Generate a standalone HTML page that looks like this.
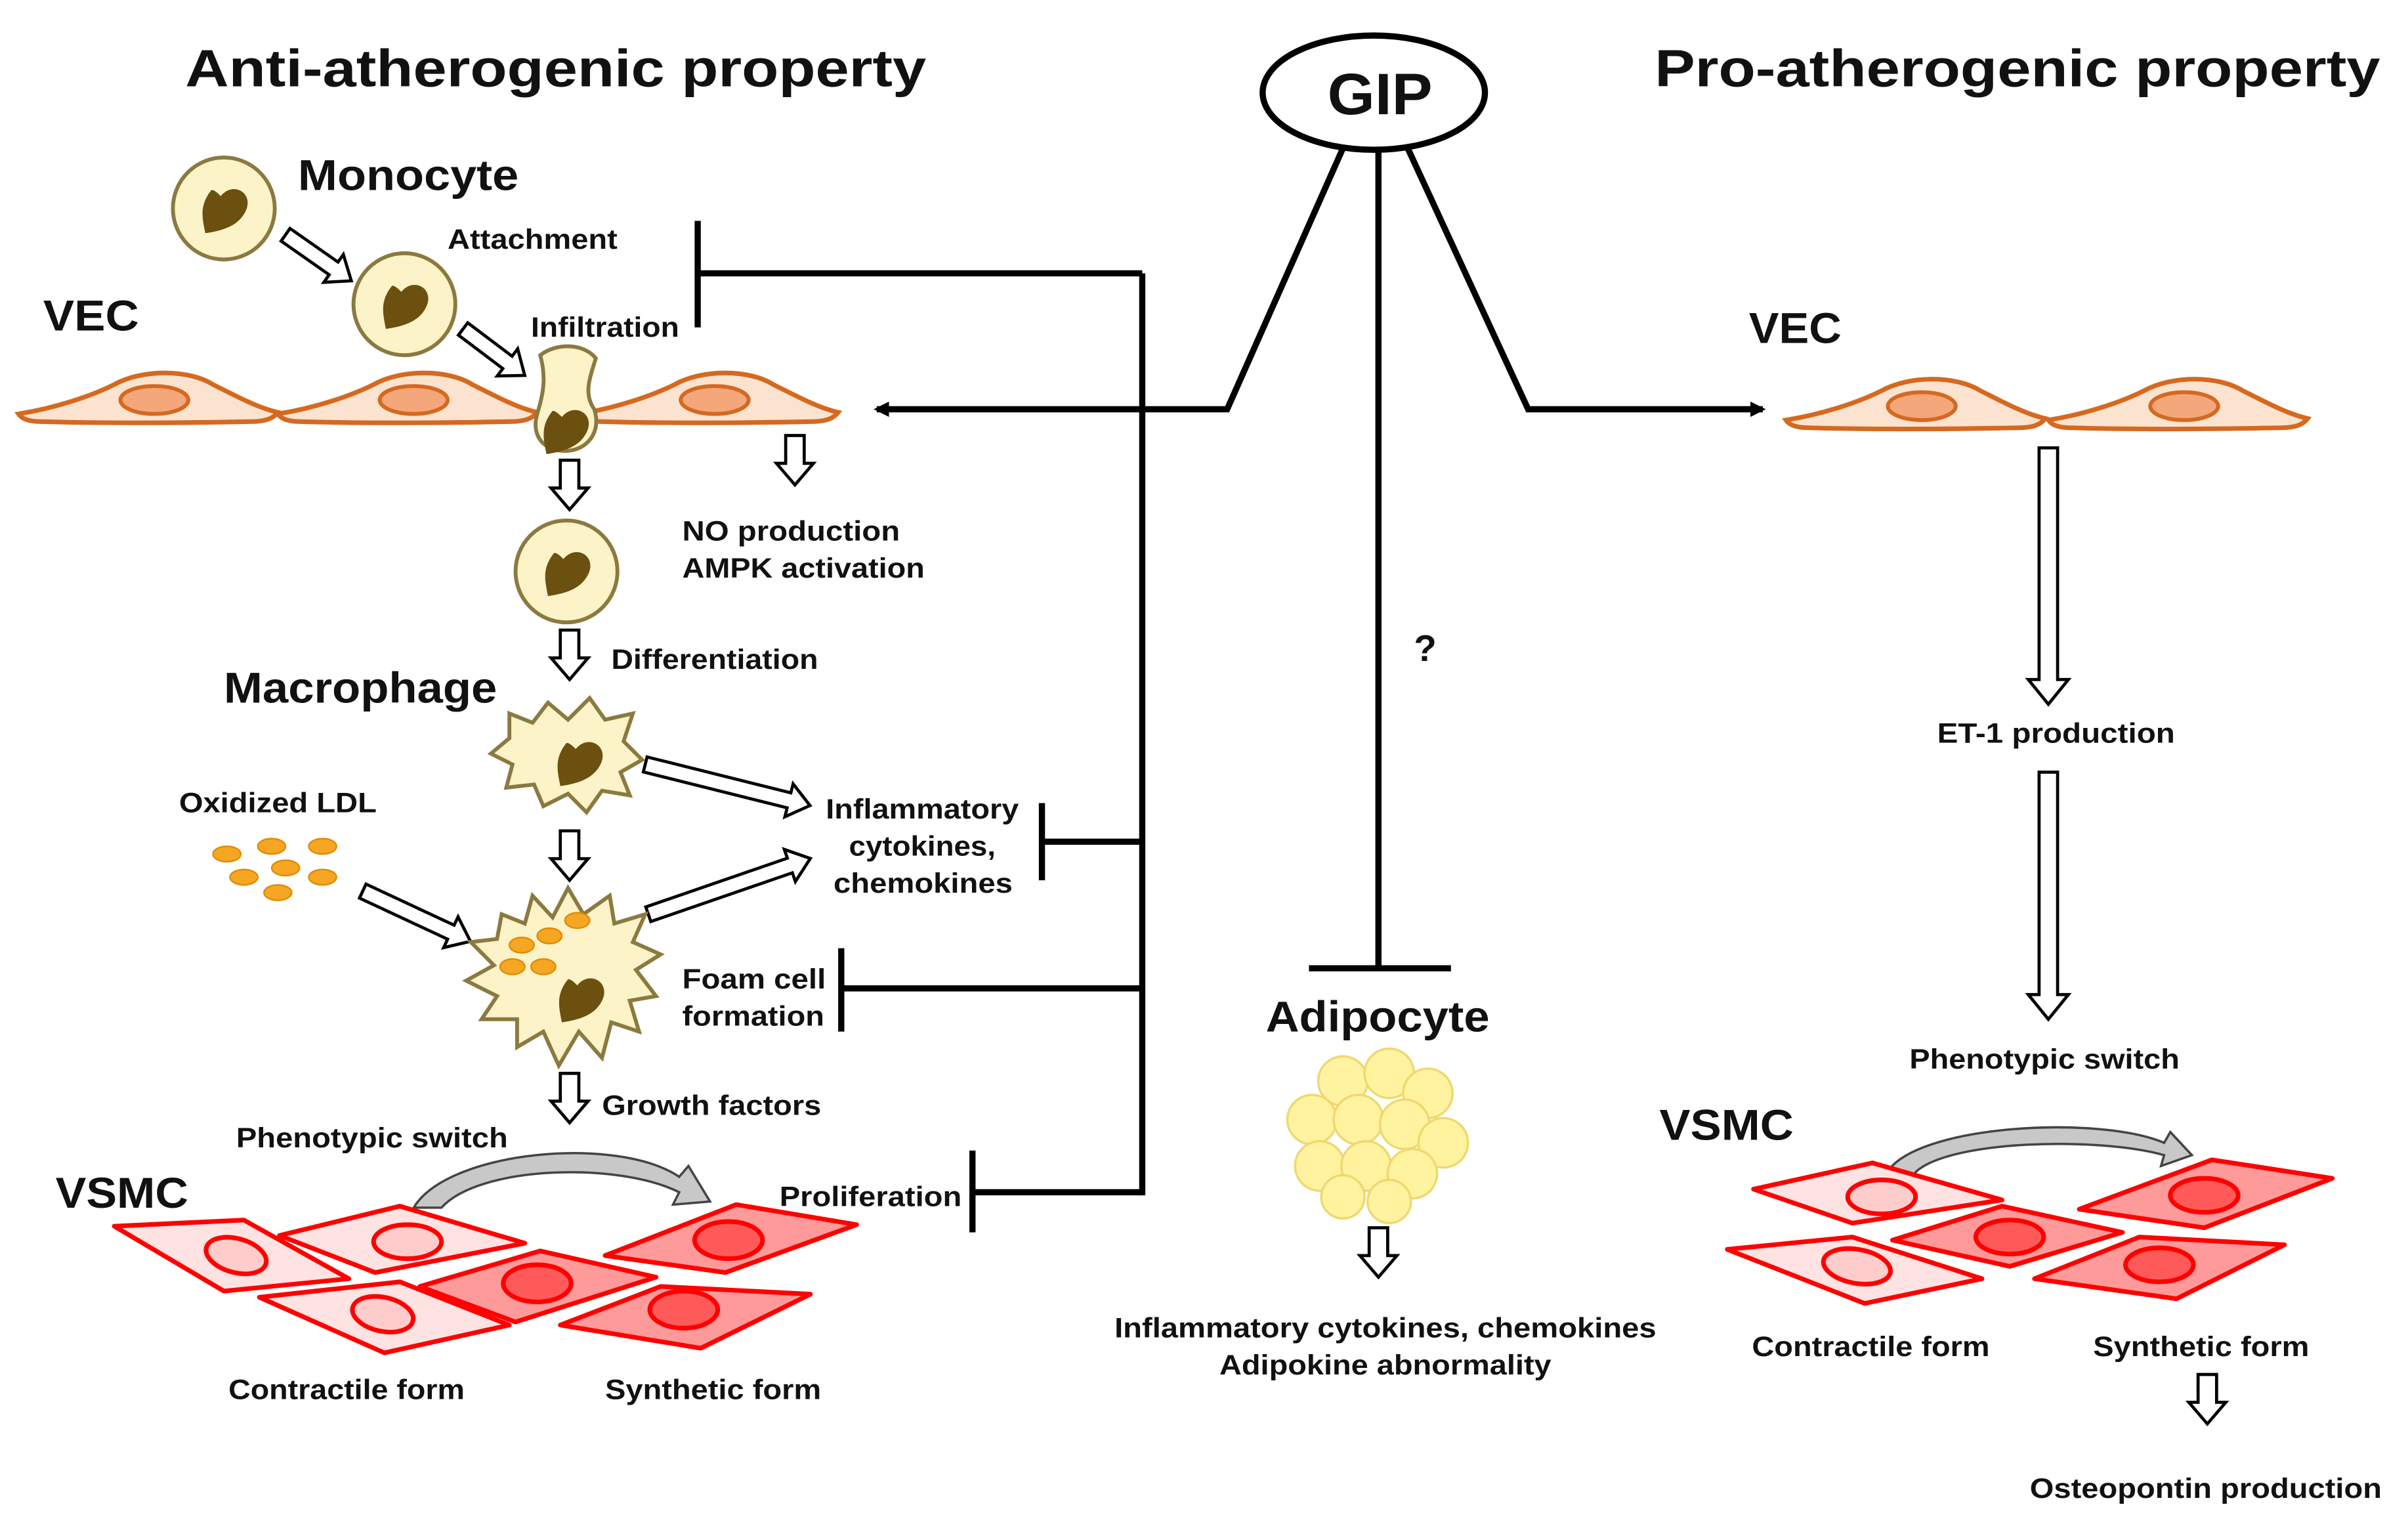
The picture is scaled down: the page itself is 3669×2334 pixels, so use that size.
<!DOCTYPE html>
<html><head><meta charset="utf-8"><style>
html,body{margin:0;padding:0;background:#fff;}
svg{display:block;}
text{font-family:"Liberation Sans",Arial,sans-serif;font-weight:bold;fill:#111;}
</style></head><body>
<svg width="3669" height="2334" viewBox="0 0 1560 992" preserveAspectRatio="none" xmlns="http://www.w3.org/2000/svg">
<defs>
<marker id="ah" markerWidth="10" markerHeight="10" refX="8" refY="5" orient="auto" markerUnits="userSpaceOnUse"><path d="M0,0 L10,5 L0,10 Z" fill="#000"/></marker>
<g id="vec">
<path d="M0,6 C25,2 48,-6 62,-13 C80,-23 110,-23 126,-13 C142,-5 155,2 168,5 C165,9 160,11 150,11 C100,12 50,12 15,11 C6,11 2,9 0,6 Z" fill="#fbe3d0" stroke="#d5691f" stroke-width="3"/>
<ellipse cx="88" cy="-3" rx="22" ry="9" fill="#f4a77a" stroke="#d5691f" stroke-width="2.5"/>
</g>
<g id="mono">
<circle r="33" fill="#fdf3c8" stroke="#8b7a40" stroke-width="2.5"/>
<path d="M-2,-8 C6,-18 20,-10 14,2 C10,10 2,14 -12,16 C-14,6 -16,-2 -8,-12 C-6,-12 -4,-10 -2,-8 Z" fill="#6b5010"/>
</g>
<g id="nuc"><path d="M-2,-8 C6,-18 20,-10 14,2 C10,10 2,14 -12,16 C-14,6 -16,-2 -8,-12 C-6,-12 -4,-10 -2,-8 Z" fill="#6b5010"/></g>
<path id="darr" d="M-6,0 H6 V18 H12 L0,32 L-12,18 H-6 Z" fill="#fff" stroke="#000" stroke-width="2"/>
</defs>

<text x="120" y="56" font-size="34" textLength="480" lengthAdjust="spacingAndGlyphs">Anti-atherogenic property</text>
<text x="1072" y="56" font-size="34" textLength="470" lengthAdjust="spacingAndGlyphs">Pro-atherogenic property</text>

<ellipse cx="890" cy="60" rx="72" ry="37" fill="#fff" stroke="#000" stroke-width="4"/>
<text x="860" y="74" font-size="38" textLength="68" lengthAdjust="spacingAndGlyphs">GIP</text>

<g stroke="#000" stroke-width="4" fill="none">
<polyline points="870,96 795,265 568,265" marker-end="url(#ah)"/>
<polyline points="912,96 990,265 1142,265" marker-end="url(#ah)"/>
<line x1="893" y1="98" x2="893" y2="627"/>
<line x1="848" y1="627" x2="940" y2="627"/>
<line x1="740" y1="177" x2="740" y2="774"/>
<line x1="740" y1="177" x2="452" y2="177"/><line x1="452" y1="143" x2="452" y2="212"/>
<line x1="740" y1="545" x2="675" y2="545"/><line x1="675" y1="520" x2="675" y2="570"/>
<line x1="740" y1="640" x2="545" y2="640"/><line x1="545" y1="614" x2="545" y2="668"/>
<line x1="740" y1="772" x2="630" y2="772"/><line x1="630" y1="745" x2="630" y2="798"/>
</g>
<text x="916" y="428" font-size="24" font-weight="normal">?</text>

<use href="#vec" x="12" y="262"/>
<use href="#vec" x="180" y="262"/>
<use href="#vec" x="375" y="262"/>
<text x="28" y="214" font-size="28" textLength="62" lengthAdjust="spacingAndGlyphs">VEC</text>

<use href="#mono" x="145" y="135"/>
<use href="#mono" x="262" y="197"/>
<text x="193" y="123" font-size="28" textLength="143" lengthAdjust="spacingAndGlyphs">Monocyte</text>
<text x="290" y="161" font-size="18" textLength="110" lengthAdjust="spacingAndGlyphs">Attachment</text>
<text x="344" y="218" font-size="18" textLength="96" lengthAdjust="spacingAndGlyphs">Infiltration</text>
<path d="M350,230 C360,222 378,222 386,232 C382,245 378,255 385,265 C390,280 380,292 366,292 C352,292 344,282 348,268 C352,255 354,245 350,230 Z" fill="#fdf3c8" stroke="#8b7a40" stroke-width="2.5"/>
<use href="#nuc" x="366" y="278"/>

<g transform="translate(185,152) rotate(35)"><path d="M0,-5 H38 V-11 L52,0 L38,11 V5 H0 Z" fill="#fff" stroke="#000" stroke-width="2"/></g>
<g transform="translate(300,213) rotate(37)"><path d="M0,-5 H36 V-11 L50,0 L36,11 V5 H0 Z" fill="#fff" stroke="#000" stroke-width="2"/></g>

<use href="#darr" x="369" y="298"/>
<use href="#darr" x="515" y="282"/>
<text x="442" y="350" font-size="18" textLength="141" lengthAdjust="spacingAndGlyphs">NO production</text>
<text x="442" y="374" font-size="18" textLength="157" lengthAdjust="spacingAndGlyphs">AMPK activation</text>
<use href="#mono" x="367" y="370"/>
<use href="#darr" x="369" y="408"/>
<text x="396" y="433" font-size="18" textLength="134" lengthAdjust="spacingAndGlyphs">Differentiation</text>
<text x="145" y="455" font-size="28" textLength="177" lengthAdjust="spacingAndGlyphs">Macrophage</text>

<path d="M330,462 L345,468 L355,455 L368,466 L382,452 L392,466 L410,462 L404,480 L416,492 L402,500 L408,515 L390,512 L380,526 L368,514 L352,522 L346,508 L328,510 L332,495 L318,488 L330,478 Z" fill="#fdf3c8" stroke="#8b7a40" stroke-width="2.5"/>
<use href="#nuc" x="375" y="493"/>
<use href="#darr" x="369" y="538"/>
<g transform="translate(418,495) rotate(14)"><path d="M0,-5 H96 V-11 L110,0 L96,11 V5 H0 Z" fill="#fff" stroke="#000" stroke-width="2"/></g>
<g transform="translate(420,592) rotate(-19)"><path d="M0,-5 H97 V-11 L111,0 L97,11 V5 H0 Z" fill="#fff" stroke="#000" stroke-width="2"/></g>
<text x="535" y="530" font-size="18" textLength="125" lengthAdjust="spacingAndGlyphs">Inflammatory</text>
<text x="550" y="554" font-size="18" textLength="95" lengthAdjust="spacingAndGlyphs">cytokines,</text>
<text x="540" y="578" font-size="18" textLength="116" lengthAdjust="spacingAndGlyphs">chemokines</text>

<text x="116" y="526" font-size="18" textLength="128" lengthAdjust="spacingAndGlyphs">Oxidized LDL</text>
<g fill="#f5a623" stroke="#e08a00" stroke-width="1">
<ellipse cx="147" cy="553" rx="9" ry="5"/><ellipse cx="176" cy="548" rx="9" ry="5"/><ellipse cx="209" cy="548" rx="9" ry="5"/>
<ellipse cx="158" cy="568" rx="9" ry="5"/><ellipse cx="185" cy="562" rx="9" ry="5"/><ellipse cx="209" cy="568" rx="9" ry="5"/>
<ellipse cx="180" cy="578" rx="9" ry="5"/>
</g>
<g transform="translate(235,577) rotate(25)"><path d="M0,-5 H63 V-11 L77,0 L63,11 V5 H0 Z" fill="#fff" stroke="#000" stroke-width="2"/></g>

<path d="M325,592 L340,598 L345,580 L358,594 L368,575 L378,592 L395,580 L398,598 L418,592 L410,610 L428,618 L412,628 L425,645 L408,648 L414,668 L396,662 L390,685 L375,668 L362,690 L352,668 L335,678 L335,660 L312,660 L322,645 L302,635 L320,625 L305,610 L322,608 Z" fill="#fdf3c8" stroke="#8b7a40" stroke-width="2.5"/>
<g fill="#f5a623" stroke="#e08a00" stroke-width="1">
<ellipse cx="338" cy="612" rx="8" ry="5"/><ellipse cx="356" cy="606" rx="8" ry="5"/><ellipse cx="374" cy="596" rx="8" ry="5"/>
<ellipse cx="332" cy="626" rx="8" ry="5"/><ellipse cx="352" cy="626" rx="8" ry="5"/>
</g>
<use href="#nuc" x="376" y="646"/>
<text x="442" y="640" font-size="18" textLength="93" lengthAdjust="spacingAndGlyphs">Foam cell</text>
<text x="442" y="664" font-size="18" textLength="92" lengthAdjust="spacingAndGlyphs">formation</text>

<use href="#darr" x="369" y="695"/>
<text x="390" y="722" font-size="18" textLength="142" lengthAdjust="spacingAndGlyphs">Growth factors</text>
<text x="153" y="743" font-size="18" textLength="176" lengthAdjust="spacingAndGlyphs">Phenotypic switch</text>
<path d="M268,782 C290,745 400,735 440,762 L446,755 L460,778 L436,780 L440,772 C400,752 310,755 286,782 Z" fill="#c8c8c8" stroke="#444" stroke-width="1.5"/>
<text x="36" y="782" font-size="28" textLength="86" lengthAdjust="spacingAndGlyphs">VSMC</text>
<text x="505" y="781" font-size="18" textLength="118" lengthAdjust="spacingAndGlyphs">Proliferation</text>

<!-- left VSMC -->
<g stroke="#ff0000" stroke-width="3" stroke-linejoin="round">
<polygon points="74,794 158,790 226,828 145,836" fill="#ffe2e2"/><ellipse cx="153" cy="813" rx="20" ry="11" fill="#ffcccc" transform="rotate(15 153 813)"/>
<polygon points="181,800 259,781 340,805 243,824" fill="#ffe2e2"/><ellipse cx="264" cy="804" rx="22" ry="11" fill="#ffcccc"/>
<polygon points="168,840 259,830 330,858 249,876" fill="#ffe2e2"/><ellipse cx="248" cy="851" rx="20" ry="11" fill="#ffcccc" transform="rotate(12 248 851)"/>
<polygon points="272,833 350,810 425,827 334,856" fill="#ff9a9a"/><ellipse cx="348" cy="831" rx="22" ry="12" fill="#ff5a5a"/>
<polygon points="392,813 477,780 555,793 470,824" fill="#ff9a9a"/><ellipse cx="472" cy="803" rx="22" ry="12" fill="#ff5a5a"/>
<polygon points="363,858 428,833 525,838 454,873" fill="#ff9a9a"/><ellipse cx="443" cy="848" rx="22" ry="12" fill="#ff5a5a"/>
</g>
<text x="148" y="906" font-size="18" textLength="153" lengthAdjust="spacingAndGlyphs">Contractile form</text>
<text x="392" y="906" font-size="18" textLength="140" lengthAdjust="spacingAndGlyphs">Synthetic form</text>

<text x="820" y="668" font-size="28" textLength="145" lengthAdjust="spacingAndGlyphs">Adipocyte</text>
<g fill="#fff3a0" stroke="#f0d870" stroke-width="1.5">
<circle cx="870" cy="700" r="16"/><circle cx="900" cy="695" r="16"/><circle cx="925" cy="708" r="16"/>
<circle cx="850" cy="725" r="16"/><circle cx="880" cy="725" r="16"/><circle cx="910" cy="728" r="16"/><circle cx="935" cy="740" r="16"/>
<circle cx="855" cy="755" r="16"/><circle cx="885" cy="755" r="16"/><circle cx="915" cy="760" r="16"/>
<circle cx="870" cy="775" r="14"/><circle cx="900" cy="778" r="14"/>
</g>
<use href="#darr" x="893" y="795"/>
<text x="722" y="866" font-size="18" textLength="351" lengthAdjust="spacingAndGlyphs">Inflammatory cytokines, chemokines</text>
<text x="790" y="890" font-size="18" textLength="215" lengthAdjust="spacingAndGlyphs">Adipokine abnormality</text>

<text x="1133" y="222" font-size="28" textLength="60" lengthAdjust="spacingAndGlyphs">VEC</text>
<use href="#vec" x="1157" y="266"/>
<use href="#vec" x="1327" y="266"/>
<path d="M1321,290 H1333 V440 H1340 L1327,456 L1314,440 H1321 Z" fill="#fff" stroke="#000" stroke-width="2"/>
<text x="1255" y="481" font-size="18" textLength="154" lengthAdjust="spacingAndGlyphs">ET-1 production</text>
<path d="M1321,500 H1333 V644 H1340 L1327,660 L1314,644 H1321 Z" fill="#fff" stroke="#000" stroke-width="2"/>
<text x="1237" y="692" font-size="18" textLength="175" lengthAdjust="spacingAndGlyphs">Phenotypic switch</text>
<text x="1075" y="738" font-size="28" textLength="87" lengthAdjust="spacingAndGlyphs">VSMC</text>
<path d="M1222,760 C1240,728 1360,722 1402,740 L1406,733 L1420,748 L1400,755 L1402,748 C1360,736 1260,738 1240,760 Z" fill="#c8c8c8" stroke="#444" stroke-width="1.5"/>
<g stroke="#ff0000" stroke-width="3" stroke-linejoin="round">
<polygon points="1136,770 1213,753 1297,777 1200,792" fill="#ffe2e2"/><ellipse cx="1219" cy="775" rx="22" ry="11" fill="#ffcccc"/>
<polygon points="1119,809 1200,801 1284,828 1208,844" fill="#ffe2e2"/><ellipse cx="1203" cy="820" rx="22" ry="11" fill="#ffcccc" transform="rotate(10 1203 820)"/>
<polygon points="1226,803 1297,781 1375,798 1302,820" fill="#ff9a9a"/><ellipse cx="1302" cy="801" rx="22" ry="11" fill="#ff5a5a"/>
<polygon points="1347,783 1433,751 1511,763 1428,795" fill="#ff9a9a"/><ellipse cx="1428" cy="774" rx="22" ry="11" fill="#ff5a5a"/>
<polygon points="1318,828 1386,801 1480,806 1410,841" fill="#ff9a9a"/><ellipse cx="1399" cy="819" rx="22" ry="11" fill="#ff5a5a"/>
</g>
<text x="1135" y="878" font-size="18" textLength="154" lengthAdjust="spacingAndGlyphs">Contractile form</text>
<text x="1356" y="878" font-size="18" textLength="140" lengthAdjust="spacingAndGlyphs">Synthetic form</text>
<use href="#darr" x="1430" y="890"/>
<text x="1315" y="970" font-size="18" textLength="228" lengthAdjust="spacingAndGlyphs">Osteopontin production</text>
</svg>
</body></html>
